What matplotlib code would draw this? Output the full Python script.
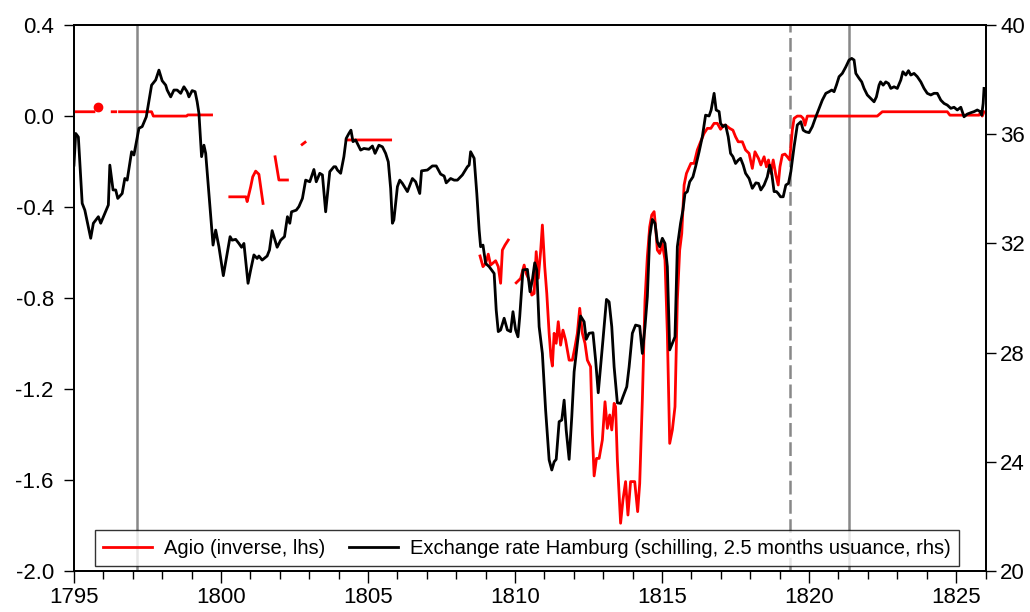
import numpy as np
import matplotlib
matplotlib.use("Agg")
import matplotlib.pyplot as plt
from matplotlib.lines import Line2D
from matplotlib.ticker import MultipleLocator, FormatStrFormatter

plt.rcParams['font.family'] = ['Liberation Sans', 'DejaVu Sans']
plt.rcParams['axes.unicode_minus'] = False

# Exchange rate Hamburg (rhs), (year, schilling)
hamburg_rate = [
    (1795.00, 34.87), (1795.06, 36.03), (1795.15, 35.90), (1795.28, 33.47), (1795.37, 33.22),
    (1795.57, 32.19), (1795.66, 32.74), (1795.83, 32.98), (1795.91, 32.74), (1796.17, 33.41),
    (1796.22, 34.87), (1796.33, 33.96), (1796.42, 33.96), (1796.49, 33.65), (1796.64, 33.83),
    (1796.73, 34.38), (1796.81, 34.32), (1796.96, 35.36), (1797.04, 35.24), (1797.21, 36.22),
    (1797.32, 36.28), (1797.46, 36.64), (1797.64, 37.80), (1797.78, 37.99), (1797.89, 38.35),
    (1798.00, 37.96), (1798.12, 37.80), (1798.17, 37.62), (1798.29, 37.37), (1798.40, 37.62),
    (1798.51, 37.62), (1798.63, 37.50), (1798.74, 37.74), (1798.85, 37.56), (1798.91, 37.37),
    (1799.02, 37.60), (1799.12, 37.56), (1799.19, 37.19), (1799.25, 36.77), (1799.34, 35.18),
    (1799.42, 35.60), (1799.48, 35.30), (1799.59, 33.83), (1799.73, 31.94), (1799.82, 32.49),
    (1799.93, 31.88), (1800.08, 30.82), (1800.21, 31.64), (1800.31, 32.25), (1800.38, 32.12),
    (1800.50, 32.15), (1800.61, 32.00), (1800.70, 31.86), (1800.78, 32.00), (1800.92, 30.54),
    (1801.01, 31.03), (1801.12, 31.58), (1801.23, 31.45), (1801.29, 31.54), (1801.40, 31.39),
    (1801.57, 31.54), (1801.65, 31.76), (1801.74, 32.47), (1801.91, 31.86), (1802.03, 32.12),
    (1802.16, 32.25), (1802.26, 32.98), (1802.34, 32.74), (1802.40, 33.16), (1802.56, 33.22),
    (1802.65, 33.35), (1802.77, 33.65), (1802.88, 34.32), (1803.02, 34.26), (1803.16, 34.71),
    (1803.24, 34.26), (1803.36, 34.57), (1803.45, 34.51), (1803.56, 33.16), (1803.70, 34.63),
    (1803.84, 34.81), (1803.90, 34.81), (1803.96, 34.69), (1804.07, 34.57), (1804.18, 35.18),
    (1804.26, 35.85), (1804.35, 36.03), (1804.42, 36.15), (1804.49, 35.73), (1804.58, 35.79),
    (1804.75, 35.42), (1804.86, 35.48), (1805.03, 35.45), (1805.15, 35.57), (1805.24, 35.30),
    (1805.37, 35.60), (1805.49, 35.54), (1805.60, 35.30), (1805.69, 34.99), (1805.77, 34.02),
    (1805.83, 32.74), (1805.88, 32.86), (1806.00, 34.08), (1806.08, 34.32), (1806.17, 34.20),
    (1806.34, 33.90), (1806.51, 34.38), (1806.62, 34.26), (1806.76, 33.83), (1806.82, 34.66),
    (1807.02, 34.69), (1807.19, 34.84), (1807.32, 34.84), (1807.47, 34.54), (1807.59, 34.47),
    (1807.66, 34.22), (1807.81, 34.38), (1807.93, 34.32), (1808.04, 34.32), (1808.21, 34.51),
    (1808.38, 34.81), (1808.44, 34.87), (1808.49, 35.36), (1808.61, 35.12), (1808.70, 33.83),
    (1808.78, 32.49), (1808.83, 31.88), (1808.91, 31.94), (1809.00, 31.27), (1809.12, 31.15),
    (1809.29, 30.90), (1809.36, 29.56), (1809.43, 28.77), (1809.51, 28.83), (1809.63, 29.26),
    (1809.74, 28.83), (1809.85, 28.77), (1809.93, 29.50), (1810.02, 28.83), (1810.10, 28.58),
    (1810.16, 29.32), (1810.27, 31.03), (1810.42, 31.05), (1810.51, 30.23), (1810.59, 30.66),
    (1810.67, 31.29), (1810.74, 31.03), (1810.82, 28.95), (1810.93, 27.97), (1811.04, 25.90),
    (1811.16, 24.07), (1811.25, 23.70), (1811.33, 24.00), (1811.40, 24.09), (1811.50, 25.47),
    (1811.59, 25.53), (1811.67, 26.26), (1811.74, 25.16), (1811.84, 24.09), (1811.93, 25.65),
    (1812.01, 27.30), (1812.12, 28.34), (1812.23, 29.34), (1812.35, 29.13), (1812.42, 28.49),
    (1812.52, 28.71), (1812.65, 28.73), (1812.74, 27.73), (1812.83, 26.53), (1812.91, 27.48),
    (1812.99, 28.46), (1813.11, 29.95), (1813.20, 29.86), (1813.29, 28.95), (1813.37, 27.48),
    (1813.48, 26.16), (1813.59, 26.14), (1813.67, 26.38), (1813.80, 26.75), (1813.88, 27.48),
    (1813.99, 28.71), (1814.10, 29.01), (1814.24, 28.97), (1814.33, 27.97), (1814.42, 28.95),
    (1814.50, 30.05), (1814.58, 32.25), (1814.67, 32.88), (1814.76, 32.74), (1814.84, 32.06),
    (1814.92, 31.88), (1815.01, 32.19), (1815.10, 32.00), (1815.18, 31.15), (1815.26, 28.10),
    (1815.35, 28.34), (1815.44, 28.58), (1815.52, 31.88), (1815.63, 32.74), (1815.71, 33.22),
    (1815.78, 33.83), (1815.86, 33.90), (1815.94, 34.26), (1816.05, 34.44), (1816.14, 34.81),
    (1816.26, 35.36), (1816.37, 35.91), (1816.48, 36.70), (1816.60, 36.67), (1816.67, 36.89),
    (1816.77, 37.50), (1816.84, 36.89), (1816.94, 36.83), (1816.99, 36.40), (1817.07, 36.28),
    (1817.16, 36.34), (1817.25, 35.91), (1817.33, 35.30), (1817.41, 35.18), (1817.50, 34.93),
    (1817.59, 35.05), (1817.67, 35.12), (1817.76, 34.87), (1817.84, 34.57), (1817.96, 34.38),
    (1818.07, 34.02), (1818.19, 34.22), (1818.28, 34.20), (1818.36, 33.96), (1818.47, 34.14),
    (1818.58, 34.44), (1818.66, 34.87), (1818.73, 34.57), (1818.81, 33.90), (1818.89, 33.90),
    (1818.95, 33.83), (1819.03, 33.71), (1819.12, 33.71), (1819.21, 34.14), (1819.30, 34.20),
    (1819.38, 34.63), (1819.49, 35.54), (1819.60, 36.34), (1819.72, 36.46), (1819.80, 36.15),
    (1819.89, 36.09), (1820.00, 36.06), (1820.11, 36.28), (1820.23, 36.64), (1820.34, 36.95),
    (1820.45, 37.25), (1820.57, 37.50), (1820.68, 37.56), (1820.77, 37.62), (1820.85, 37.56),
    (1820.93, 37.80), (1821.02, 38.11), (1821.13, 38.23), (1821.25, 38.47), (1821.36, 38.72),
    (1821.45, 38.78), (1821.53, 38.72), (1821.59, 38.23), (1821.70, 38.05), (1821.79, 37.92),
    (1821.87, 37.68), (1821.98, 37.44), (1822.10, 37.31), (1822.21, 37.19), (1822.29, 37.37),
    (1822.38, 37.80), (1822.43, 37.92), (1822.52, 37.80), (1822.61, 37.92), (1822.70, 37.86),
    (1822.78, 37.68), (1822.89, 37.74), (1823.00, 37.68), (1823.12, 37.99), (1823.19, 38.29),
    (1823.29, 38.17), (1823.38, 38.33), (1823.46, 38.17), (1823.57, 38.23), (1823.68, 38.11),
    (1823.80, 37.92), (1823.91, 37.68), (1824.02, 37.50), (1824.14, 37.44), (1824.25, 37.50),
    (1824.36, 37.50), (1824.48, 37.25), (1824.59, 37.13), (1824.70, 37.07), (1824.82, 36.95),
    (1824.93, 36.99), (1825.04, 36.89), (1825.16, 36.99), (1825.27, 36.64), (1825.38, 36.74),
    (1825.50, 36.79), (1825.61, 36.83), (1825.72, 36.89), (1825.82, 36.83), (1825.87, 36.70),
    (1825.92, 37.13), (1825.95, 37.68),
]

# Agio (inverse, lhs); nan marks gaps in the series
nan = np.nan
agio = [
    (1795.00, 0.019), (1795.68, 0.019), (nan, nan),
    (1796.30, 0.019), (1796.42, 0.019), (nan, nan),
    (1796.55, 0.019), (1797.64, 0.019), (1797.70, 0.0), (1798.83, 0.0), (1798.87, 0.005),
    (1799.68, 0.005), (nan, nan),
    (1800.30, -0.355), (1800.85, -0.355), (1800.89, -0.376), (1801.01, -0.311), (1801.08, -0.267),
    (1801.18, -0.242), (1801.29, -0.256), (1801.35, -0.311), (1801.43, -0.384), (nan, nan),
    (1801.84, -0.179), (1801.97, -0.281), (1802.26, -0.281), (nan, nan),
    (1802.76, -0.125), (1802.86, -0.115), (nan, nan),
    (1804.26, -0.105), (1805.77, -0.105), (nan, nan),
    (1808.81, -0.615), (1808.91, -0.662), (1809.00, -0.648), (1809.09, -0.607), (1809.17, -0.655),
    (1809.34, -0.636), (1809.43, -0.662), (1809.51, -0.735), (1809.57, -0.589), (1809.66, -0.567),
    (1809.77, -0.545), (nan, nan),
    (1810.04, -0.733), (1810.19, -0.714), (1810.31, -0.655), (1810.38, -0.692), (1810.48, -0.721),
    (1810.57, -0.787), (1810.65, -0.780), (1810.72, -0.596), (1810.79, -0.713), (1810.87, -0.596),
    (1810.93, -0.479), (1811.01, -0.662), (1811.08, -0.780), (1811.16, -0.955), (1811.22, -1.058),
    (1811.27, -1.099), (1811.33, -0.955), (1811.40, -0.999), (1811.47, -0.904), (1811.55, -1.007),
    (1811.63, -0.941), (1811.72, -0.985), (1811.84, -1.073), (1811.95, -1.073), (1812.04, -1.014),
    (1812.12, -0.955), (1812.20, -0.845), (1812.29, -0.955), (1812.38, -0.999), (1812.46, -1.073),
    (1812.57, -1.102), (1812.63, -1.395), (1812.69, -1.582), (1812.77, -1.505), (1812.86, -1.505),
    (1812.97, -1.424), (1813.06, -1.256), (1813.14, -1.373), (1813.22, -1.314), (1813.29, -1.380),
    (1813.37, -1.263), (1813.42, -1.278), (1813.48, -1.512), (1813.59, -1.790), (1813.67, -1.688),
    (1813.76, -1.607), (1813.84, -1.754), (1813.93, -1.607), (1814.07, -1.607), (1814.17, -1.739),
    (1814.24, -1.615), (1814.33, -1.248), (1814.42, -0.809), (1814.50, -0.618), (1814.58, -0.487),
    (1814.65, -0.435), (1814.73, -0.420), (1814.78, -0.487), (1814.84, -0.589), (1814.92, -0.604),
    (1815.01, -0.560), (1815.10, -0.633), (1815.18, -0.955), (1815.26, -1.439), (1815.35, -1.380),
    (1815.44, -1.278), (1815.52, -0.809), (1815.60, -0.589), (1815.67, -0.516), (1815.75, -0.303),
    (1815.83, -0.252), (1815.98, -0.208), (1816.09, -0.208), (1816.20, -0.149), (1816.31, -0.113),
    (1816.43, -0.076), (1816.54, -0.054), (1816.66, -0.054), (1816.77, -0.032), (1816.88, -0.032),
    (1816.99, -0.058), (1817.11, -0.040), (1817.16, -0.040), (1817.30, -0.054), (1817.41, -0.062),
    (1817.50, -0.091), (1817.59, -0.113), (1817.73, -0.113), (1817.84, -0.149), (1817.96, -0.164),
    (1818.07, -0.230), (1818.16, -0.157), (1818.28, -0.186), (1818.36, -0.215), (1818.47, -0.179),
    (1818.55, -0.223), (1818.62, -0.193), (1818.70, -0.252), (1818.78, -0.193), (1818.87, -0.259),
    (1818.95, -0.303), (1819.01, -0.223), (1819.09, -0.171), (1819.18, -0.167), (1819.26, -0.179),
    (1819.34, -0.193), (1819.43, -0.062), (1819.49, -0.010), (1819.60, 0.0), (1819.72, 0.0),
    (1819.80, -0.010), (1819.86, -0.040), (1819.94, 0.0), (1822.32, 0.0), (1822.49, 0.019),
    (1824.70, 0.019), (1824.79, 0.004), (1825.78, 0.004), (1825.84, 0.019), (1825.89, 0.0),
    (1825.95, 0.019),
]
agio_dot = (1795.83, 0.041)

# vertical reference lines
solid_lines = [1797.15, 1821.36]
dashed_lines = [1819.35]

hb_x, hb_y = zip(*hamburg_rate)
ag_x, ag_y = zip(*agio)

fig = plt.figure(figsize=(10.3, 6.12), dpi=100)
ax = fig.add_axes([0.0718, 0.067, 0.885, 0.892])
ax2 = ax.twinx()

for x in solid_lines:
    ax.axvline(x, color='#888888', lw=1.8, zorder=1)
for x in dashed_lines:
    ax.axvline(x, color='#888888', lw=1.8, dashes=(5.5, 2.2), zorder=1)

ax.plot(ag_x, ag_y, color='#ff0000', lw=2.0, zorder=3)
ax.plot([agio_dot[0]], [agio_dot[1]], 'o', color='#ff0000', ms=6, zorder=3)
ax2.plot(hb_x, hb_y, color='black', lw=2.0)

ax.set_xlim(1795, 1826)
ax.set_ylim(-2.0, 0.4)
ax2.set_ylim(20, 40)
ax.set_xticks(np.arange(1795, 1826, 5))
ax.xaxis.set_minor_locator(MultipleLocator(1))
ax.yaxis.set_major_locator(MultipleLocator(0.4))
ax.yaxis.set_major_formatter(FormatStrFormatter('%.1f'))
ax2.yaxis.set_major_locator(MultipleLocator(4))

ax.tick_params(axis='x', which='major', direction='out', length=8.5, width=1, labelsize=16, pad=3)
ax.tick_params(axis='x', which='minor', direction='out', length=5.5, width=1)
ax.tick_params(axis='y', direction='out', length=7.5, width=1, labelsize=16, pad=7)
ax2.tick_params(axis='y', direction='out', length=7.5, width=1, labelsize=16, pad=3)

for a in (ax, ax2):
    for s in a.spines.values():
        s.set_linewidth(1.3)

handles = [Line2D([], [], color='#ff0000', lw=2.0), Line2D([], [], color='black', lw=2.0)]
labels = ['Agio (inverse, lhs)', 'Exchange rate Hamburg (schilling, 2.5 months usuance, rhs)']
leg = ax2.legend(handles, labels, loc='lower left', bbox_to_anchor=(0.023, 0.009),
                 ncol=2, fontsize=14.5, handlelength=2.4, handletextpad=0.6,
                 columnspacing=1.2, frameon=True, fancybox=False, edgecolor='black',
                 borderpad=0.42, borderaxespad=0)
leg.get_frame().set_linewidth(1.0)

fig.savefig('out.png', dpi=100)
